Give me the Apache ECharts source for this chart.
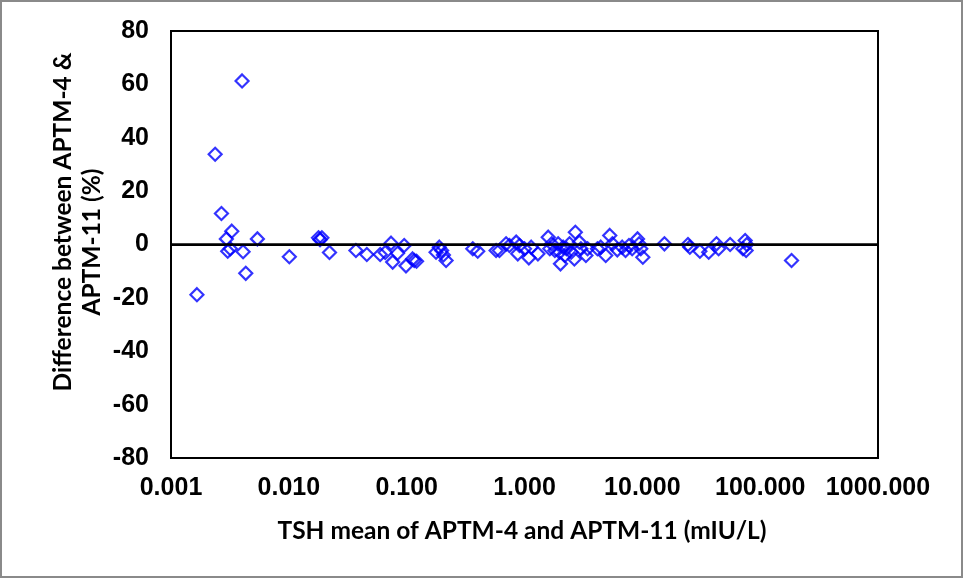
<!DOCTYPE html>
<html>
<head>
<meta charset="utf-8">
<script src="https://cdn.jsdelivr.net/npm/echarts@6/dist/echarts.min.js"></script>
<style>
html,body{margin:0;padding:0;background:#fff;}
#chart{width:963px;height:578px;}
</style>
</head>
<body>
<div id="chart"></div>
<script>
// TSH mean (mIU/L)
var tshMean = [
  0.00166, 0.00237, 0.00268, 0.00328, 0.00295, 0.00303, 0.00319, 0.00401, 0.00409, 0.00431, 0.00541, 0.0101,
  0.01786, 0.01907, 0.0184, 0.02213, 0.0371, 0.0459, 0.0596, 0.0658, 0.0737, 0.0761, 0.0837, 0.0953, 0.0987,
  0.1123, 0.116, 0.1213, 0.1776, 0.1892, 0.198, 0.205, 0.216, 0.364, 0.401,
  0.574, 0.613, 0.698, 0.745, 0.85, 0.907, 0.877, 1.0, 1.089, 1.14, 1.30, 1.59, 1.64, 1.70, 1.81, 1.93, 1.99,
  2.02, 2.13, 2.2, 2.27, 2.41, 2.49, 2.70, 2.65, 2.92, 3.01, 3.32, 3.43, 4.16, 4.44, 4.89, 5.29, 5.57, 6.13,
  6.75, 7.2, 7.7, 8.2, 9.1, 9.4, 9.7, 10.1, 15.4, 24.4, 25.3, 30.8, 36.6, 42.6, 44.4, 55.6, 71.4, 74.6, 76, 77, 184.6
];
// Difference (%)
var diffPct = [
  -18.8, 33.8, 11.6, 5.0, 2.1, -2.5, -1.6, 61.3, -2.7, -10.8, 2.1, -4.6,
  2.5, 2.5, 1.8, -3.0, -2.25, -3.75, -3.75, -3.0, 0.5, -6.6, -3.3, -0.4, -8.0,
  -5.4, -6.0, -6.3, -2.9, -1.0, -2.25, -3.9, -6.0, -1.6, -2.5,
  -2.25, -2.25, 0.25, -0.4, 0.9, -0.4, -3.5, -1.6, -5.0, -1.0, -3.5, 2.75, -1.6, 0.25, -2.25, 0.25, -2.9,
  -7.25, -1.0, -4.1, -1.6, 0.25, -2.9, 4.6, -5.4, 0.9, -1.6, -4.1, -1.6, -1.6, -1.0, -4.1, 3.4, 0.25, -2.0,
  -1.0, -2.25, -0.4, -1.6, 2.1, 0.25, -1.6, -4.8, 0.25, 0, -1.0, -2.5, -2.9, 0.25, -1.6, 0, -1.6, 1.5, -2.25, 0, -6.0
];
var xTickLabels = ['0.001', '0.010', '0.100', '1.000', '10.000', '100.000', '1000.000'];
var yTicks = [-80, -60, -40, -20, 0, 20, 40, 60, 80];
var xTitle = 'TSH mean of APTM-4 and APTM-11 (mIU/L)';
var yTitle1 = 'Difference between APTM-4 &';
var yTitle2 = 'APTM-11 (%)';

var points = tshMean.map(function (v, i) { return [v, diffPct[i]]; });

var chart = echarts.init(document.getElementById('chart'), null, {renderer: 'canvas'});
var tickFont = {fontFamily: '"Liberation Sans", Arial, sans-serif', fontWeight: 'bold', fontSize: 25, color: '#000'};
var titleFont = '"Lato", "Liberation Sans", sans-serif';

chart.setOption({
  animation: false,
  backgroundColor: '#fff',
  grid: {left: 171, right: 85, top: 31, bottom: 120, show: true, borderColor: '#000', borderWidth: 2, containLabel: false},
  xAxis: {
    type: 'log', logBase: 10, min: 0.001, max: 1000,
    axisLine: {show: true, lineStyle: {color: '#000', width: 2}},
    axisTick: {show: false},
    splitLine: {show: false},
    minorTick: {show: false},
    axisLabel: Object.assign({margin: 18, formatter: function (v) {
      var idx = Math.round(Math.log10(v)) + 3;
      return xTickLabels[idx] !== undefined ? xTickLabels[idx] : '';
    }}, tickFont)
  },
  yAxis: {
    type: 'value', min: yTicks[0], max: yTicks[yTicks.length - 1], interval: 20,
    axisLine: {show: true, onZero: false, lineStyle: {color: '#000', width: 2}},
    axisTick: {show: false},
    splitLine: {show: false},
    axisLabel: Object.assign({margin: 22}, tickFont)
  },
  graphic: [
    {type: 'rect', shape: {x: 1, y: 1, width: 961, height: 576}, style: {fill: 'none', stroke: '#8a8a8a', lineWidth: 2}, silent: true, z: 100},
    {type: 'text', x: 63, y: 222, rotation: Math.PI / 2,
      style: {text: yTitle1, font: 'bold 24.5px ' + titleFont, fill: '#000', textAlign: 'center', textVerticalAlign: 'middle'}},
    {type: 'text', x: 92, y: 242, rotation: Math.PI / 2,
      style: {text: yTitle2, font: 'bold 24.5px ' + titleFont, fill: '#000', textAlign: 'center', textVerticalAlign: 'middle'}},
    {type: 'text', x: 522, y: 531,
      style: {text: xTitle, font: 'bold 24.5px ' + titleFont, fill: '#000', textAlign: 'center', textVerticalAlign: 'middle'}}
  ],
  series: [{
    type: 'scatter',
    data: points,
    symbol: 'diamond',
    symbolSize: 13,
    itemStyle: {color: 'rgba(0,0,0,0)', borderColor: '#0000ff', borderWidth: 2.2},
    markLine: {
      silent: true, symbol: 'none', label: {show: false},
      lineStyle: {color: '#000', width: 2.5, type: 'solid'},
      data: [{yAxis: 0}]
    }
  }]
});
</script>
</body>
</html>
